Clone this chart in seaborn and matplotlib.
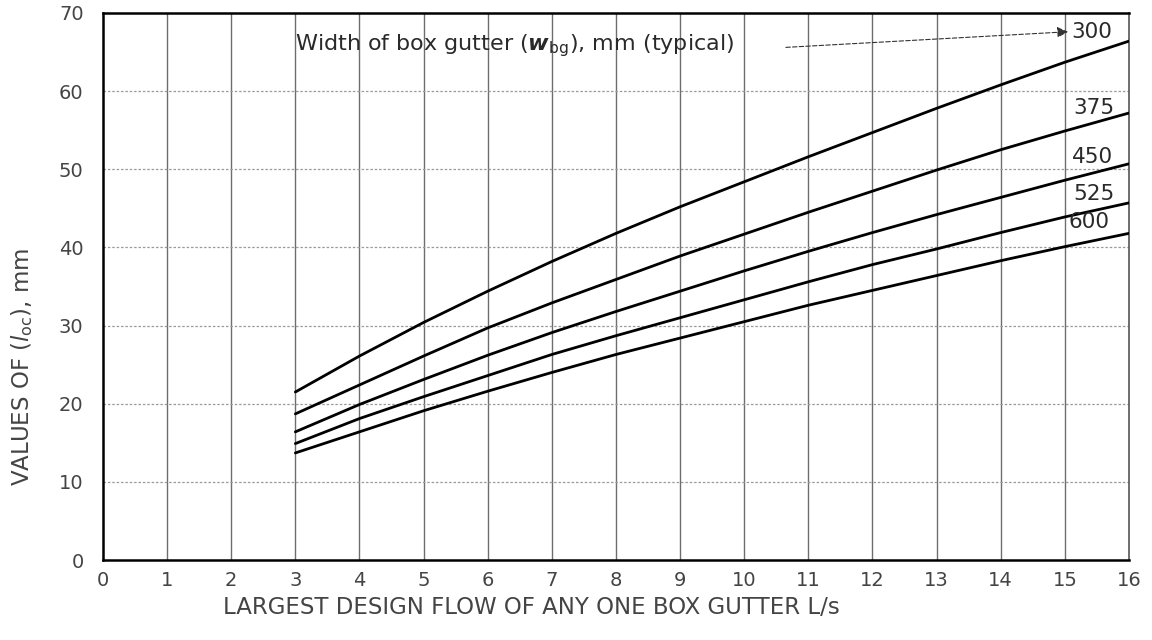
import numpy as np
import pandas as pd
import matplotlib
matplotlib.use("Agg")
import matplotlib.pyplot as plt
import seaborn as sns

# Design flow, L/s
flow = [3, 4, 5, 6, 7, 8, 9, 10, 11, 12, 13, 14, 15, 16]

# Values of l_oc (mm) for each box gutter width
loc_300 = [21.5, 26.1, 30.4, 34.4, 38.2, 41.8, 45.2, 48.4, 51.6, 54.7, 57.8, 60.8, 63.7, 66.4]
loc_375 = [18.7, 22.4, 26.1, 29.7, 32.9, 35.9, 38.9, 41.7, 44.5, 47.2, 49.9, 52.5, 54.9, 57.2]
loc_450 = [16.4, 19.9, 23.1, 26.2, 29.1, 31.8, 34.4, 37.0, 39.5, 41.9, 44.2, 46.4, 48.6, 50.7]
loc_525 = [14.9, 18.1, 20.9, 23.6, 26.3, 28.7, 31.0, 33.3, 35.6, 37.8, 39.8, 41.9, 43.9, 45.7]
loc_600 = [13.7, 16.4, 19.1, 21.6, 24.0, 26.3, 28.4, 30.5, 32.6, 34.5, 36.4, 38.3, 40.1, 41.8]

widths = ["300", "375", "450", "525", "600"]
series = [loc_300, loc_375, loc_450, loc_525, loc_600]

# Label positions at the right-hand end of each curve (data coords)
label_x = [15.42, 15.45, 15.43, 15.45, 15.38]
label_y = [67.6, 57.9, 51.6, 46.9, 43.3]

x_ticks = list(range(0, 17))
y_ticks = list(range(0, 71, 10))

sns.set_theme(style="white")
plt.rcParams["font.family"] = ["DejaVu Sans"]
plt.rcParams["mathtext.fontset"] = "dejavusans"

df = pd.DataFrame({
    "flow": np.tile(flow, len(widths)),
    "loc": np.concatenate(series),
    "width": np.repeat(widths, len(flow)),
})

fig = plt.figure(figsize=(11.52, 6.4), dpi=100)
ax = fig.add_axes([0.0894, 0.125, 0.8906, 0.8547])

# grid: solid verticals, dotted horizontals
for xv in x_ticks[1:-1]:
    ax.axvline(xv, color="#6e6e6e", lw=1.0, zorder=1)
for yv in y_ticks[1:-1]:
    ax.axhline(yv, color="#9a9a9a", lw=0.9, ls=(0, (2, 1.5)), zorder=1)

sns.lineplot(data=df, x="flow", y="loc", hue="width",
             palette=["black"] * len(widths), linewidth=2.0,
             legend=False, ax=ax, zorder=3)

for w, lx, ly in zip(widths, label_x, label_y):
    ax.text(lx, ly, w, fontsize=15.5, color="#2a2a2a", ha="center", va="center",
            zorder=4)

ax.text(3.0, 65.8, r"Width of box gutter ($\boldsymbol{w}_{\mathrm{bg}}$), mm (typical)",
        fontsize=16, color="#2a2a2a", ha="left", va="center", zorder=4)
ax.annotate("", xy=(15.05, 67.6), xytext=(10.65, 65.6),
            arrowprops=dict(arrowstyle="-|>", color="#333333", lw=0.8,
                            ls=(0, (4, 2)), mutation_scale=16,
                            shrinkA=0, shrinkB=0), zorder=4)

ax.set_xlim(0, 16)
ax.set_ylim(0, 70)
ax.set_xticks(x_ticks)
ax.set_yticks(y_ticks)
ax.tick_params(axis="both", length=0, labelsize=14, labelcolor="#444444")
ax.tick_params(axis="x", pad=8)
ax.tick_params(axis="y", pad=14)

ax.set_xlabel("LARGEST DESIGN FLOW OF ANY ONE BOX GUTTER L/s",
              fontsize=16.5, color="#444444")
ax.xaxis.set_label_coords(0.418, -0.066)
ax.set_ylabel(r"VALUES OF ($\mathit{l}_{\mathrm{oc}}$), mm",
              fontsize=16.5, color="#444444")
ax.yaxis.set_label_coords(-0.066, 0.353)

for side in ["left", "bottom", "top"]:
    ax.spines[side].set_color("black")
    ax.spines[side].set_linewidth(1.8)
ax.spines["right"].set_color("#555555")
ax.spines["right"].set_linewidth(1.2)

fig.savefig("out.png", dpi=100, facecolor="white")
